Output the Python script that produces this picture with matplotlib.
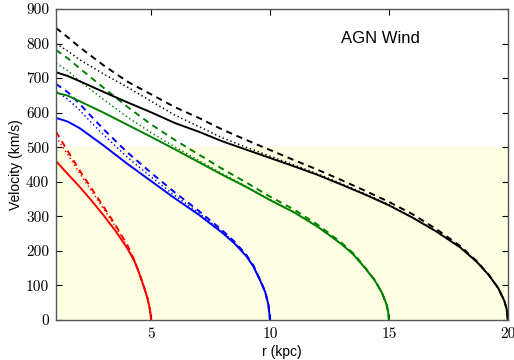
import matplotlib
matplotlib.use("Agg")
import matplotlib.pyplot as plt

plt.rcParams['font.family'] = ['Liberation Sans', 'DejaVu Sans']
plt.rcParams['lines.scale_dashes'] = False

# radius grids (kpc) and velocities (km/s)
r_red = [1, 1.5, 2, 2.5, 3, 3.5, 4, 4.3, 4.5, 4.7, 4.85, 4.95, 5]
v_red_solid = [460, 422, 385, 345, 303, 258, 207, 170, 135, 95, 62, 30, 0]
v_red_dashed = [545, 488, 432, 380, 328, 275, 217, 172, 136, 96, 62, 30, 0]
v_red_dotted = [530, 478, 424, 373, 322, 270, 213, 171, 135, 95, 62, 30, 0]

r_blue = [1, 1.5, 2, 2.5, 3, 4, 5, 6, 7, 8, 8.5, 9, 9.3, 9.6, 9.8, 9.93, 10]
v_blue_solid = [585, 574, 555, 530, 505, 452, 402, 352, 305, 252, 222, 185, 155, 112, 80, 45, 0]
v_blue_dashed = [683, 659, 625, 588, 552, 485, 426, 369, 316, 259, 227, 189, 158, 114, 81, 45, 0]
v_blue_dotted = [662, 639, 607, 570, 536, 471, 414, 360, 310, 255, 224, 187, 156, 113, 80, 45, 0]

r_green = [1, 1.5, 2, 3, 4, 5, 6, 7, 8, 9, 10, 11, 12, 13, 13.5, 14, 14.4, 14.7, 14.9, 14.97, 15]
v_green_solid = [658, 649, 633, 600, 565, 530, 494, 457, 420, 385, 347, 312, 270, 220, 190, 150, 115, 80, 45, 22, 0]
v_green_dashed = [781, 757, 728, 672, 617, 566, 521, 479, 437, 398, 357, 320, 276, 224, 193, 152, 116, 80, 45, 22, 0]
v_green_dotted = [743, 721, 691, 638, 587, 542, 501, 462, 423, 387, 349, 313, 271, 220, 190, 150, 115, 80, 45, 22, 0]

r_black = [1, 1.5, 2, 3, 4, 5, 6, 7, 8, 9, 10, 11, 12, 13, 14, 15, 16, 17, 18, 18.7, 19.2, 19.6, 19.85, 19.95, 20]
v_black_solid = [717, 706, 691, 660, 630, 601, 570, 545, 517, 493, 469, 445, 420, 392, 363, 332, 296, 256, 210, 168, 130, 92, 56, 32, 0]
v_black_dashed = [845, 818, 789, 737, 690, 653, 616, 585, 551, 521, 492, 463, 435, 405, 374, 342, 306, 263, 214, 170, 131, 92, 56, 32, 0]
v_black_dotted = [800, 778, 753, 712, 674, 633, 593, 560, 527, 500, 474, 449, 423, 395, 365, 334, 297, 256, 210, 168, 130, 92, 56, 32, 0]

x_ticks = [5, 10, 15, 20]
y_ticks = [0, 100, 200, 300, 400, 500, 600, 700, 800, 900]

fig = plt.figure(figsize=(5.14, 3.6), dpi=100)
ax = fig.add_axes([0.109, 0.111, 0.879, 0.864])

ax.axhspan(0, 500, color='#FEFEE2', zorder=0)

dash = (0, (4.5, 3.5))
dot = (0, (1, 2))
groups = [
    ('red', r_red, v_red_solid, v_red_dashed, v_red_dotted),
    ('blue', r_blue, v_blue_solid, v_blue_dashed, v_blue_dotted),
    ('green', r_green, v_green_solid, v_green_dashed, v_green_dotted),
    ('black', r_black, v_black_solid, v_black_dashed, v_black_dotted),
]
for col, r, vs, vd, vo in groups:
    ax.plot(r, vs, color=col, lw=1.4)
    ax.plot(r, vd, color=col, lw=1.4, linestyle=dash)
    ax.plot(r, vo, color=col, lw=1.1, linestyle=dot)

ax.set_xlim(1, 20)
ax.set_ylim(0, 900)
ax.set_xticks(x_ticks)
ax.set_xticklabels([str(t) for t in x_ticks], fontsize=11, fontfamily='cmr10')
ax.set_yticks(y_ticks)
ax.set_yticklabels([str(t) for t in y_ticks], fontsize=11, fontfamily='cmr10')
ax.tick_params(direction='in', top=True, right=True, length=4, width=0.8, pad=5)
for s in ax.spines.values():
    s.set_color('#555555')
    s.set_linewidth(1.0)

ax.set_xlabel('r (kpc)', fontsize=10, labelpad=3)
ax.set_ylabel('Velocity (km/s)', fontsize=10, labelpad=2)
ax.text(13.0, 816, 'AGN Wind', fontsize=12, ha='left', va='center')

fig.savefig('out.png', dpi=100)
